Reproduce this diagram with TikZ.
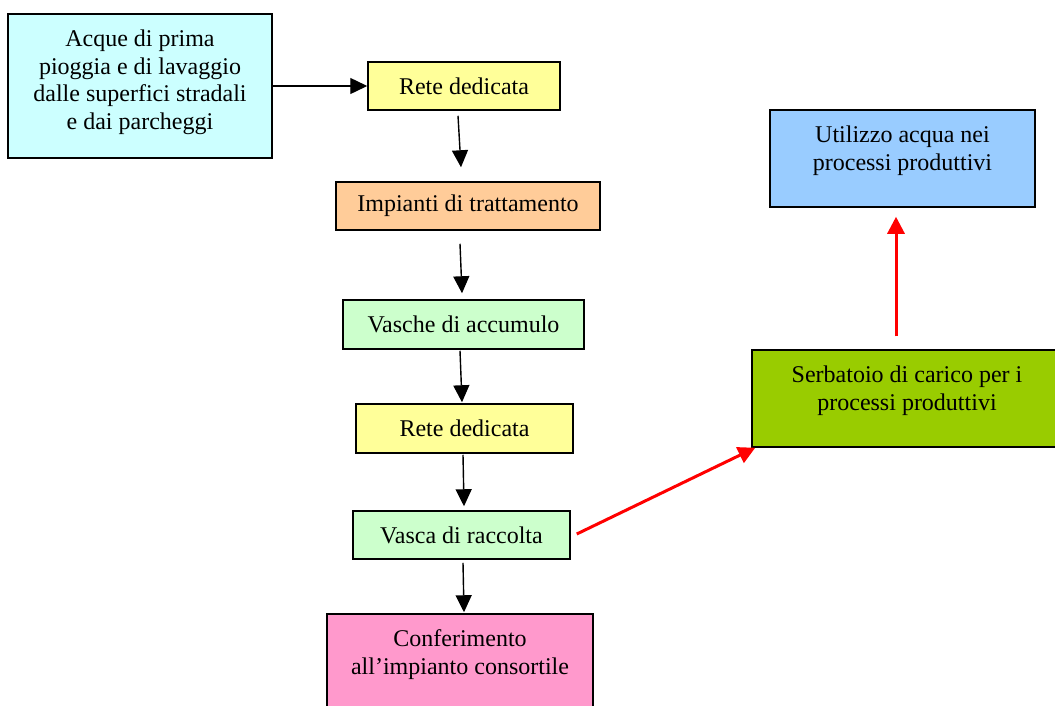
\documentclass[tikz,border=0pt]{standalone}
\usepackage{fontspec}
\setmainfont{Liberation Serif}
\usetikzlibrary{arrows.meta,calc}
\definecolor{cAcque}{HTML}{CCFFFF}
\definecolor{cRete}{HTML}{FFFF99}
\definecolor{cImp}{HTML}{FFCC99}
\definecolor{cVas}{HTML}{CCFFCC}
\definecolor{cConf}{HTML}{FF99CC}
\definecolor{cUtil}{HTML}{99CCFF}
\definecolor{cSerb}{HTML}{99CC00}
\definecolor{cRed}{HTML}{FF0000}
\begin{document}
\begin{tikzpicture}[x=1pt,y=-1pt,
  box/.style={draw=black,line width=1.5pt,inner sep=0pt,
    font=\fontsize{24pt}{27.6pt}\selectfont},
  lbl/.style={inner sep=0pt,align=center,anchor=north,
    font=\fontsize{24pt}{27.6pt}\selectfont},
  blk/.style={line width=1.4pt,-{Triangle[length=17pt,width=16pt]}},
  redarr/.style={draw=cRed,line width=3pt,-{Triangle[length=17pt,width=17pt]}}]
\useasboundingbox (0,0) rectangle (1055,705);
% boxes
\node[box,fill=cAcque,minimum width=264pt,minimum height=144pt] (acque) at (140,86) {};
\node[lbl] (tacque) at ([yshift=-16.5pt]acque.north) {Acque di prima\\pioggia e di lavaggio\\dalle superfici stradali\\e dai parcheggi};
\node[box,fill=cRete,minimum width=192pt,minimum height=48pt] (r1) at (464,86) {Rete dedicata};
\node[box,fill=cImp,minimum width=264pt,minimum height=48pt] (imp) at (468,206) {Impianti di trattamento};
\node[box,fill=cVas,minimum width=241pt,minimum height=49pt] (vas) at (463.5,324.5) {Vasche di accumulo};
\node[box,fill=cRete,minimum width=217pt,minimum height=49pt] (r2) at (464.5,428.5) {Rete dedicata};
\node[box,fill=cVas,minimum width=217pt,minimum height=48pt] (vasca) at (461.5,535) {Vasca di raccolta};
\node[box,fill=cConf,minimum width=266pt,minimum height=106pt] (conf) at (460,667) {};
\node[lbl] (tconf) at ([yshift=-16.5pt]conf.north) {Conferimento\\all’impianto consortile};
\node[box,fill=cUtil,minimum width=265pt,minimum height=97pt] (util) at (902.5,158.5) {};
\node[lbl] (tutil) at ([yshift=-16.5pt]util.north) {Utilizzo acqua nei\\processi produttivi};
\node[box,fill=cSerb,minimum width=310pt,minimum height=97pt] (serb) at (907,398.5) {};
\node[lbl] (tserb) at ([yshift=-16.5pt]serb.north) {Serbatoio di carico per i\\processi produttivi};
% black arrows
\draw[blk] (acque.east) -- (r1.west);
\draw[blk] ([xshift=-6pt,yshift=-5pt]r1.south) -- ([xshift=-7pt,yshift=14pt]imp.north);
\draw[blk] ([xshift=-8pt,yshift=-13pt]imp.south) -- ([xshift=-1.5pt,yshift=6pt]vas.north);
\draw[blk] ([xshift=-3.5pt,yshift=-1pt]vas.south) -- ([xshift=-2.5pt,yshift=1pt]r2.north);
\draw[blk] ([xshift=-1.5pt,yshift=-1pt]r2.south) -- ([xshift=2.5pt,yshift=4pt]vasca.north);
\draw[blk] ([xshift=1.5pt,yshift=-3pt]vasca.south) -- ([xshift=4pt,yshift=1pt]conf.north);
% red arrows
\draw[redarr] ([xshift=6pt,yshift=1pt]vasca.east) -- ([xshift=4pt]serb.south west);
\draw[redarr] ([xshift=-11pt,yshift=13pt]serb.north) -- ([xshift=-6.5pt,yshift=-9pt]util.south);
\end{tikzpicture}
\end{document}
